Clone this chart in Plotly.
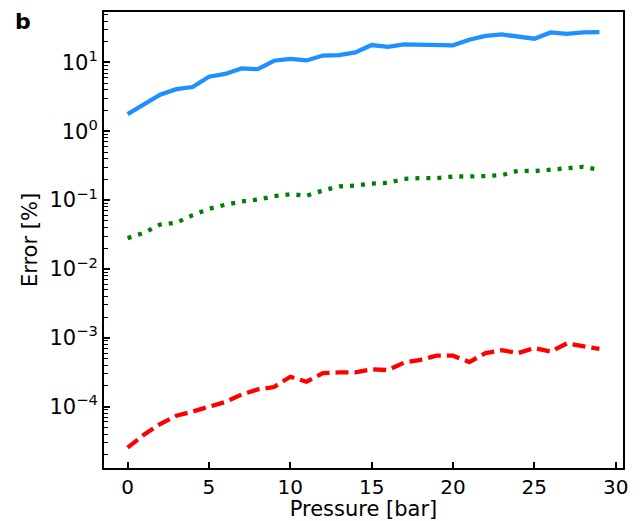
import plotly.graph_objects as go

pressure = list(range(30))

err_blue = [1.78, 2.5, 3.4, 4.1, 4.4, 6.2, 6.8, 8.2, 8.0, 10.6,
            11.3, 10.7, 12.6, 12.8, 14.0, 17.9, 16.8, 18.3, 18.3, 18.1,
            17.7, 21.4, 24.4, 25.5, 23.6, 22.1, 27.3, 26.1, 27.3, 27.6]

err_green = [0.0281, 0.0335, 0.0442, 0.047, 0.0605, 0.0748, 0.0855, 0.0955, 0.102, 0.114,
             0.122, 0.116, 0.138, 0.158, 0.163, 0.174, 0.178, 0.204, 0.209, 0.209,
             0.22, 0.22, 0.223, 0.231, 0.267, 0.264, 0.279, 0.288, 0.305, 0.275]

err_red = [2.54e-5, 3.9e-5, 5.6e-5, 7.4e-5, 8.5e-5, 9.8e-5, 1.17e-4, 1.5e-4, 1.78e-4, 1.93e-4,
           2.72e-4, 2.3e-4, 3.07e-4, 3.15e-4, 3.15e-4, 3.5e-4, 3.4e-4, 4.37e-4, 4.8e-4, 5.5e-4,
           5.5e-4, 4.45e-4, 6.0e-4, 6.6e-4, 6.0e-4, 7.1e-4, 6.3e-4, 8.3e-4, 7.6e-4, 6.9e-4]

x_ticks = [0, 5, 10, 15, 20, 25, 30]
y_tick_exps = [-4, -3, -2, -1, 0, 1]
y_tick_vals = [10.0 ** e for e in y_tick_exps]
y_tick_text = ["10<sup>%s</sup>" % (str(e).replace("-", "\u2212")) for e in y_tick_exps]
y_minor_vals = [k * 10.0 ** n for n in range(-5, 2) for k in range(2, 10)]

FONT = "DejaVu Sans"
L, R, T, B = 104, 17, 12, 53
W, H = 640, 521
PW, PH = W - L - R, H - T - B

fig = go.Figure()
fig.add_trace(go.Scatter(x=pressure, y=err_blue, mode="lines",
                         line=dict(color="#1E90FF", width=4.3)))
fig.add_trace(go.Scatter(x=pressure, y=err_green, mode="lines",
                         line=dict(color="#008000", width=4.3, dash="4px,7px")))
fig.add_trace(go.Scatter(x=pressure, y=err_red, mode="lines",
                         line=dict(color="#FF0000", width=4.3, dash="13px,6px")))

fig.update_layout(
    width=W, height=H,
    margin=dict(l=L, r=R, t=T, b=B),
    paper_bgcolor="white", plot_bgcolor="white",
    showlegend=False,
    font=dict(family=FONT, size=20, color="black"),
    xaxis=dict(
        range=[-1.45, 30.45],
        tickvals=x_ticks,
        ticks="inside", ticklen=6, tickwidth=1.5, tickcolor="black",
        showline=True, linewidth=2, linecolor="black", mirror=True,
        showgrid=False, zeroline=False, automargin=False,
        title=dict(text="Pressure [bar]", standoff=5, font=dict(size=21)),
        tickfont=dict(size=20),
    ),
    yaxis=dict(
        type="log",
        range=[-4.891, 1.733],
        tickvals=y_tick_vals, ticktext=y_tick_text,
        ticks="inside", ticklen=6, tickwidth=1.5, tickcolor="black",
        minor=dict(tickvals=y_minor_vals, ticks="inside", ticklen=3.5,
                   tickwidth=1, tickcolor="black", showgrid=False),
        showline=True, linewidth=2, linecolor="black", mirror=True,
        showgrid=False, zeroline=False, automargin=False,
        title=dict(text="Error [%]", standoff=6, font=dict(size=21)),
        tickfont=dict(size=21),
    ),
    annotations=[dict(text="<b>b</b>", xref="paper", yref="paper",
                      x=(23 - L) / PW, y=1 + (T - 22) / PH,
                      xanchor="center", yanchor="middle",
                      showarrow=False, font=dict(size=22, family=FONT))],
)

fig.write_html("out.html")
